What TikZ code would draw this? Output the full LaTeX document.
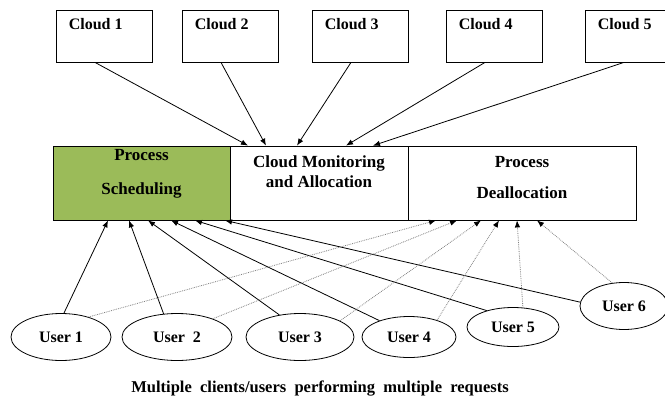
\documentclass[tikz,border=0pt]{standalone}
\usepackage{fontspec}
\setmainfont{Liberation Serif}
\usetikzlibrary{arrows.meta,calc,shapes.geometric}

\definecolor{schedgreen}{RGB}{155,187,89}

\tikzset{
	cloudbox/.style={draw, line width=0.8pt, minimum width=96pt, minimum height=52pt, inner sep=0pt},
	cloudtext/.style={font=\fontsize{16}{18}\selectfont\bfseries, anchor=north west, inner sep=0pt, xshift=13pt, yshift=-9pt},
	block/.style={draw, line width=0.8pt, minimum height=74pt, inner sep=0pt},
	blocktext/.style={align=center, inner sep=0pt},
	user/.style={draw, ellipse, line width=0.8pt, inner sep=0pt, font=\fontsize{16}{18}\selectfont\bfseries},
	solidarrow/.style={line width=0.8pt, -{Latex[length=7pt,width=5.5pt]}},
	dotarrow/.style={gray, densely dotted, line width=0.8pt, -{Latex[length=7pt,width=5.5pt,black]}},
}

\begin{document}
\begin{tikzpicture}[x=1pt, y=-1pt]

	\useasboundingbox (0,0) rectangle (665,397);

	% clouds
	\foreach \i/\cx in {1/104,2/230,3/360,4/494,5/633}
		\node [cloudbox, label={[cloudtext, name=cloudtxt\i]north west:Cloud \i}] (cloud\i) at (\cx,36) {};

	% main row
	\node [block, fill=schedgreen, minimum width=177pt] (sched) at (141.5,183) {};
	\node [block, minimum width=178pt] (monitor) at (319,183) {};
	\node [block, minimum width=228pt] (dealloc) at (522,183) {};

	\node [blocktext, font=\fontsize{17}{34}\selectfont\bfseries] (schedtxt) at (141.5,174) {Process\\Scheduling};
	\node [blocktext, font=\fontsize{17}{20}\selectfont\bfseries] (monitortxt) at (319,172) {Cloud Monitoring\\and Allocation};
	\node [blocktext, font=\fontsize{17}{31}\selectfont\bfseries] (dealloctxt) at (522,177.5) {Process\\Deallocation};

	% users
	\node [user, minimum width=100pt, minimum height=47pt] (user1) at (61,337) {User 1};
	\node [user, minimum width=110pt, minimum height=47pt] (user2) at (177,337) {User\ \ 2};
	\node [user, minimum width=108pt, minimum height=47pt] (user3) at (300,337) {User 3};
	\node [user, minimum width=94pt, minimum height=41pt] (user4) at (409,337) {User 4};
	\node [user, minimum width=92pt, minimum height=39pt] (user5) at (513,327) {User 5};
	\node [user, minimum width=88pt, minimum height=47pt] (user6) at (624,306) {User 6};

	% clouds to monitoring
	\foreach \i/\dx in {1/-71,2/-53,3/-22,4/27,5/54}
		\draw [solidarrow] ($(cloud\i.south)+(-9,0)$) -- ($(monitor.north)+(\dx,0)$);

	% users to scheduling
	\foreach \u/\a/\dx in {1/83/-33.5,2/120/-12.5,3/133/6.5,4/151/29.5,5/148/53.5,6/175/83.5}
		\draw [solidarrow] (user\u.\a) -- ($(sched.south)+(\dx,0)$);

	% users to deallocation
	\foreach \u/\a/\dx in {1/36/-86,2/27/-65,3/22/-41,4/31/-23,5/63/-5,6/117/15}
		\draw [dotarrow] (user\u.\a) -- ($(dealloc.south)+(\dx,0)$);

	\node [font=\fontsize{16.5}{18}\selectfont\bfseries, inner sep=0pt] (caption) at (320,389) {Multiple\ \ clients/users\ \ performing\ \ multiple\ \ requests};

\end{tikzpicture}
\end{document}
